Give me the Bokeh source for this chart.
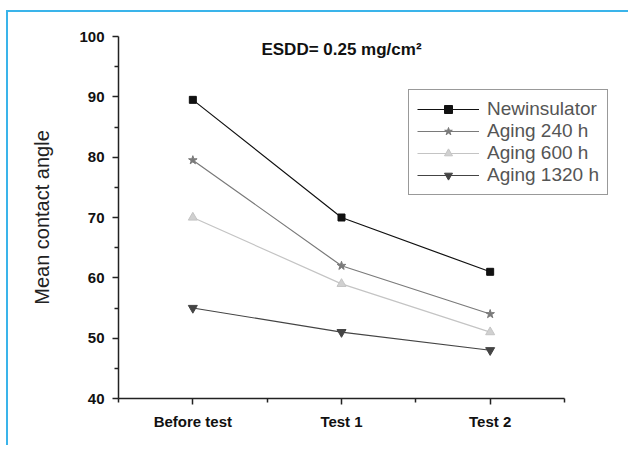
from bokeh.plotting import figure
from bokeh.models import FixedTicker, Range1d, Label, Legend, LegendItem
from bokeh.embed import file_html
from bokeh.resources import INLINE

categories = ["Before test", "Test 1", "Test 2"]
series_names = ["Newinsulator", "Aging 240 h", "Aging 600 h", "Aging 1320 h"]
new_insulator = [89.5, 70, 61]
aging_240 = [79.5, 62, 54]
aging_600 = [70, 59, 51]
aging_1320 = [55, 51, 48]
y_ticks = [40, 50, 60, 70, 80, 90, 100]
title_text = "ESDD= 0.25 mg/cm\u00b2"

xs = list(range(len(categories)))

p = figure(width=622, height=435, output_backend="svg", toolbar_location=None,
           x_range=Range1d(-0.5, 2.917), y_range=Range1d(40, 100),
           min_border_left=110, min_border_right=4, min_border_top=24, min_border_bottom=49,
           styles={"border-left": "2px solid #3ab4ea", "border-top": "2px solid #3ab4ea",
                   "margin-left": "6px", "margin-top": "10px"})
p.background_fill_color = "white"
p.border_fill_color = "white"
p.outline_line_color = None
p.xgrid.visible = False
p.ygrid.visible = False

p.xaxis.ticker = FixedTicker(ticks=xs, minor_ticks=[-0.5, 0.5, 1.5, 2.5])
p.xaxis.bounds = (-0.5, 2.5)
p.xaxis.major_label_overrides = {i: c for i, c in enumerate(categories)}
p.yaxis.ticker = FixedTicker(ticks=y_ticks, minor_ticks=[45, 55, 65, 75, 85, 95])

for ax in (p.xaxis[0], p.yaxis[0]):
    ax.axis_line_color = "#222222"
    ax.axis_line_width = 1.5
    ax.major_tick_line_color = "#222222"
    ax.major_tick_line_width = 1.5
    ax.minor_tick_line_color = "#222222"
    ax.minor_tick_line_width = 1.5
    ax.major_tick_in = 0
    ax.major_tick_out = 6
    ax.minor_tick_in = 0
    ax.minor_tick_out = 4
    ax.major_label_text_font = "Liberation Sans"
    ax.major_label_text_font_style = "bold"
    ax.major_label_text_font_size = "15px"
    ax.major_label_text_color = "#111111"

p.xaxis.major_label_standoff = 8
p.yaxis.major_label_standoff = 8
p.yaxis.axis_label = "Mean contact angle"
p.yaxis.axis_label_text_font = "Liberation Sans"
p.yaxis.axis_label_text_font_style = "normal"
p.yaxis.axis_label_text_font_size = "20px"
p.yaxis.axis_label_text_color = "#222222"
p.yaxis.axis_label_standoff = 23

styles = [
    (new_insulator, "#111111", "square", 7, "#111111"),
    (aging_240, "#7a7a7a", "star", 9, "#7a7a7a"),
    (aging_600, "#c4c4c4", "triangle", 9, "#d0d0d0"),
    (aging_1320, "#444444", "inverted_triangle", 9, "#444444"),
]
items = []
for name, (vals, col, mk, sz, fc) in zip(series_names, styles):
    r1 = p.line(xs, vals, line_color=col, line_width=1.2)
    r2 = p.scatter(xs, vals, marker=mk, size=sz, fill_color=fc, line_color=col)
    items.append(LegendItem(label=name, renderers=[r1, r2]))

legend = Legend(items=items, location=(290, 203))
legend.border_line_color = "#333333"
legend.border_line_width = 1.5
legend.background_fill_color = "white"
legend.background_fill_alpha = 1
legend.label_text_font = "Liberation Sans"
legend.label_text_font_size = "19px"
legend.label_text_color = "#555555"
legend.glyph_width = 62
legend.glyph_height = 20
legend.label_height = 20
legend.spacing = 0
legend.padding = 8
legend.margin = 0
legend.label_standoff = 8
p.add_layout(legend, "center")

p.add_layout(Label(x=1, y=97.8, text=title_text, text_align="center", text_baseline="middle",
                   text_font="Liberation Sans", text_font_style="bold", text_font_size="17px",
                   text_color="#111111"))

open("out.html", "w").write(file_html(p, INLINE))
